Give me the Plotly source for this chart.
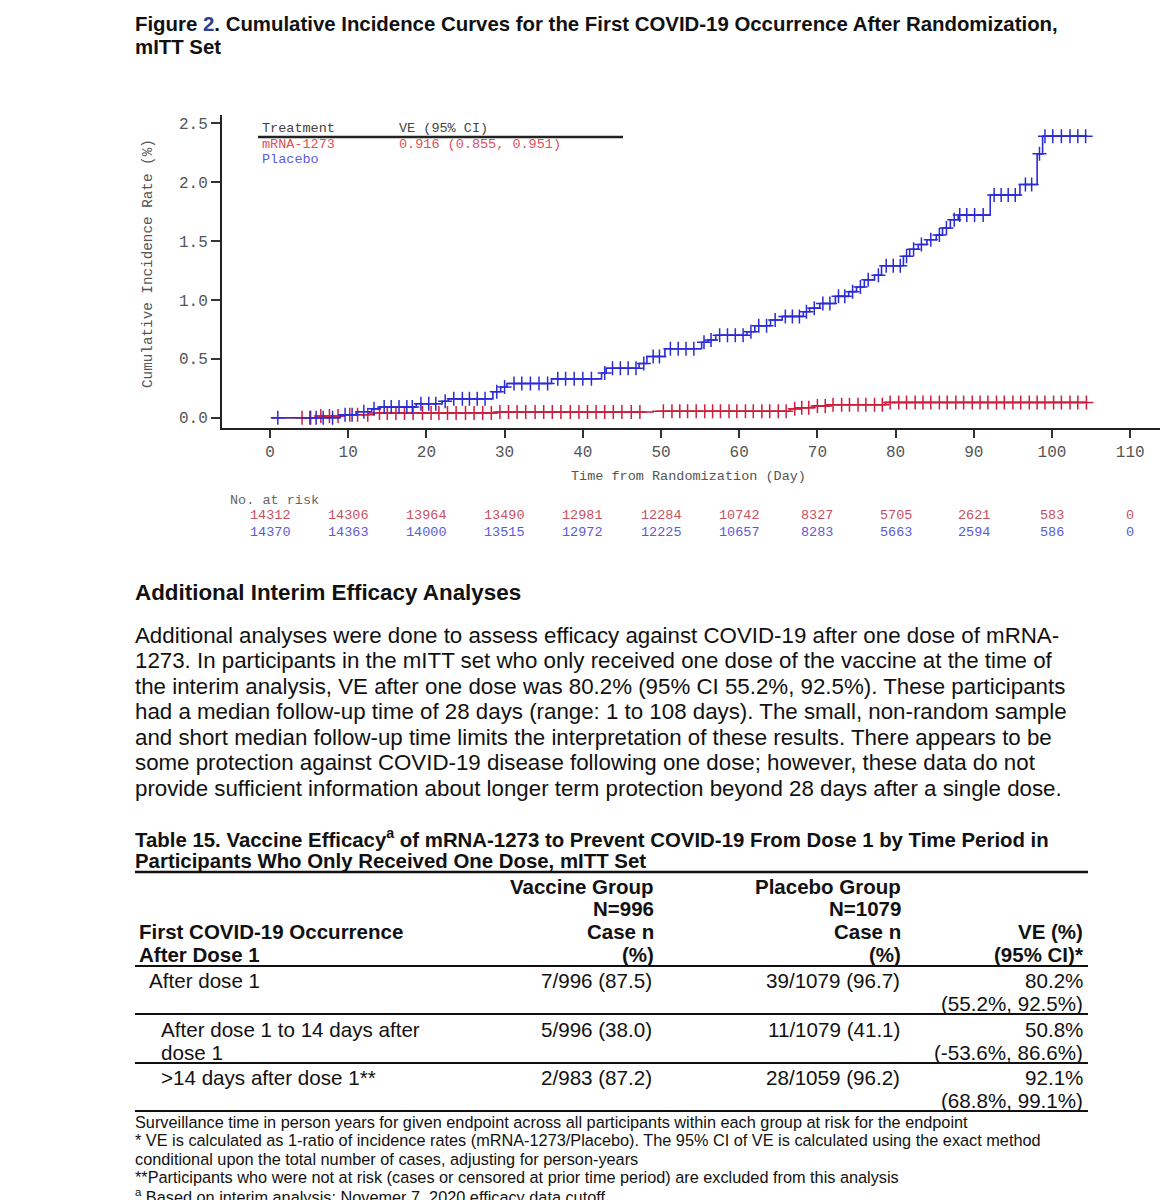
import numpy as np
import plotly.graph_objects as go

W, H = 1160, 1200

# ---------------- chart data ----------------
placebo_step_t = [0.2, 9, 11, 13, 14, 18.7, 22, 22.8, 28.5, 29.5, 30.3, 36, 42.4, 43, 47.2, 48.2, 50.5,
                  55.2, 56, 57, 61, 62, 64, 65.5, 68.2, 69, 70.3, 72.3, 74, 75, 76, 77.3, 78.2, 81,
                  81.8, 82.9, 84, 85.2, 86, 87, 88, 92.1, 95.9, 98.1, 98.8, 104.5]
placebo_step_v = [0.0, 0.025, 0.05, 0.075, 0.09, 0.118, 0.14, 0.16, 0.22, 0.26, 0.29, 0.33, 0.38, 0.42,
                  0.46, 0.52, 0.585, 0.64, 0.66, 0.70, 0.73, 0.78, 0.83, 0.86, 0.90, 0.93, 0.97, 1.03,
                  1.07, 1.11, 1.17, 1.21, 1.29, 1.37, 1.43, 1.47, 1.51, 1.55, 1.61, 1.68, 1.72, 1.89,
                  1.98, 2.24, 2.39, 2.39]
vaccine_step_t = [0.2, 6, 9.3, 12.6, 29, 49, 66.5, 67.8, 69.5, 71.5, 78.7, 104.5]
vaccine_step_v = [0.0, 0.014, 0.025, 0.04, 0.048, 0.055, 0.075, 0.085, 0.10, 0.11, 0.13, 0.13]

placebo_censor_t = [1.0, 5.1, 5.9, 6.8, 8.0, 9.6, 10.5, 12.0, 13.3, 14.6, 15.5, 16.5, 17.5, 18.2, 19.3,
                    20.3, 21.2, 22.4, 23.5, 24.6, 25.5, 26.5, 27.5, 29.0, 30.0, 31.2, 32.2, 33.3, 34.4,
                    35.5, 36.8, 37.8, 38.9, 40.0, 41.1, 42.8, 43.8, 44.8, 45.8, 46.8, 47.8, 49.0, 49.8,
                    51.2, 52.2, 53.2, 54.2, 55.5, 56.4, 57.5, 58.5, 59.5, 60.5, 61.5, 62.5, 63.5, 64.6,
                    65.9, 66.8, 67.7, 68.6, 69.6, 70.7, 71.6, 72.7, 73.5, 74.5, 75.5, 76.5, 77.8, 78.8,
                    79.7, 80.6, 81.4, 82.3, 83.3, 84.5, 85.6, 86.5, 87.5, 88.2, 89.1, 90.1, 91.2, 92.6,
                    93.5, 94.4, 95.3, 96.6, 97.4, 98.4, 99.1, 100.1, 101.2, 102.3, 103.3, 104.3]
vaccine_censor_t = [4.1, 5.2, 6.5, 7.6, 8.7, 10.2, 11.2, 12.5, 14.0, 15.0, 16.1, 17.2, 18.3, 19.5, 20.6,
                    21.6, 22.7, 23.8, 25.0, 26.1, 27.2, 28.3, 29.4, 30.5, 31.6, 32.7, 33.9, 35.0, 36.1,
                    37.2, 38.4, 39.5, 40.6, 41.7, 42.8, 43.9, 45.0, 46.2, 47.3, 50.3, 51.4, 52.4, 53.4,
                    54.5, 55.6, 56.6, 57.6, 58.7, 59.7, 60.8, 61.8, 62.9, 63.9, 65.0, 66.0, 67.1, 68.0,
                    68.9, 70.0, 71.0, 72.0, 73.1, 74.1, 75.2, 76.2, 77.3, 78.3, 79.3, 80.4, 81.4, 82.5,
                    83.5, 84.5, 85.6, 86.6, 87.7, 88.7, 89.8, 90.8, 91.8, 92.9, 93.9, 95.0, 96.0, 97.1,
                    98.1, 99.1, 100.2, 101.2, 102.3, 103.3, 104.4]

x_ticks = [0, 10, 20, 30, 40, 50, 60, 70, 80, 90, 100, 110]
y_ticks = [0.0, 0.5, 1.0, 1.5, 2.0, 2.5]
risk_vaccine = [14312, 14306, 13964, 13490, 12981, 12284, 10742, 8327, 5705, 2621, 583, 0]
risk_placebo = [14370, 14363, 14000, 13515, 12972, 12225, 10657, 8283, 5663, 2594, 586, 0]

ve_text = "0.916 (0.855, 0.951)"

# ---------------- document text ----------------
fig_title_lines = ["Figure <span style='color:#2a3f8f'>2</span>. Cumulative Incidence Curves for the First COVID-19 Occurrence After Randomization,",
                   "mITT Set"]
section_heading = "Additional Interim Efficacy Analyses"
paragraph_lines = [
    "Additional analyses were done to assess efficacy against COVID-19 after one dose of mRNA-",
    "1273. In participants in the mITT set who only received one dose of the vaccine at the time of",
    "the interim analysis, VE after one dose was 80.2% (95% CI 55.2%, 92.5%). These participants",
    "had a median follow-up time of 28 days (range: 1 to 108 days). The small, non-random sample",
    "and short median follow-up time limits the interpretation of these results. There appears to be",
    "some protection against COVID-19 disease following one dose; however, these data do not",
    "provide sufficient information about longer term protection beyond 28 days after a single dose.",
]
table_title_lines = ["Table 15. Vaccine Efficacy<sup>a</sup> of mRNA-1273 to Prevent COVID-19 From Dose 1 by Time Period in",
                     "Participants Who Only Received One Dose, mITT Set"]
header_col1 = ["", "", "First COVID-19 Occurrence", "After Dose 1"]
header_col2 = ["Vaccine Group", "N=996", "Case n", "(%)"]
header_col3 = ["Placebo Group", "N=1079", "Case n", "(%)"]
header_col4 = ["", "", "VE (%)", "(95% CI)*"]
row_labels = [["After dose 1"], ["After dose 1 to 14 days after", "dose 1"], [">14 days after dose 1**"]]
row_vaccine = ["7/996 (87.5)", "5/996 (38.0)", "2/983 (87.2)"]
row_placebo = ["39/1079 (96.7)", "11/1079 (41.1)", "28/1059 (96.2)"]
row_ve = ["80.2%", "50.8%", "92.1%"]
row_ci = ["(55.2%, 92.5%)", "(-53.6%, 86.6%)", "(68.8%, 99.1%)"]
footnotes = [
    "Surveillance time in person years for given endpoint across all participants within each group at risk for the endpoint",
    "* VE is calculated as 1-ratio of incidence rates (mRNA-1273/Placebo). The 95% CI of VE is calculated using the exact method",
    "conditional upon the total number of cases, adjusting for person-years",
    "**Participants who were not at risk (cases or censored at prior time period) are excluded from this analysis",
    "<sup>a</sup> Based on interim analysis; Novemer 7, 2020 efficacy data cutoff",
]

# ---------------- styles ----------------
BLUE = "#2b2bd6"
RED = "#cc1e3c"
BLUE_TXT = "#5a5ae6"
RED_TXT = "#e0505a"
MONO = "Liberation Mono, Courier New, monospace"
DOC = "Liberation Sans, Arial, sans-serif"
INK = "#111111"


def step_value(ts, vs, t):
    i = int(np.searchsorted(np.array(ts), t, side="right")) - 1
    return vs[max(i, 0)]


fig = go.Figure()

for ts, vs, cts, col in [(vaccine_step_t, vaccine_step_v, vaccine_censor_t, RED),
                         (placebo_step_t, placebo_step_v, placebo_censor_t, BLUE)]:
    fig.add_trace(go.Scatter(x=ts, y=vs, mode="lines", line=dict(color=col, width=1.6, shape="hv"),
                             showlegend=False, hoverinfo="skip"))
    fig.add_trace(go.Scatter(x=cts, y=[step_value(ts, vs, t) for t in cts], mode="markers",
                             marker=dict(symbol="cross-thin", size=10, line=dict(color=col, width=1.5)),
                             showlegend=False, hoverinfo="skip"))


def px(x):
    return x / W


def py(y):
    return 1 - y / H


# axes geometry (pixels)
AX_L, AX_R, AX_T, AX_B = 222, 1160, 115, 428
x0_px, x_per_day = 270.0, 7.82
y0_px, y_per_unit = 417.7, 117.8
x_range = [(AX_L - x0_px) / x_per_day, (AX_R - x0_px) / x_per_day]
y_range = [(y0_px - AX_B) / y_per_unit, (y0_px - AX_T) / y_per_unit]

fig.update_layout(
    width=W, height=H, margin=dict(l=0, r=0, t=0, b=0),
    paper_bgcolor="white", plot_bgcolor="white",
    xaxis=dict(domain=[px(AX_L), px(AX_R)], range=x_range, tickvals=x_ticks, ticks="outside",
               ticklen=8, tickwidth=1.5, tickcolor="#333", showline=True, linecolor="#222",
               linewidth=2, showgrid=False, zeroline=False,
               tickfont=dict(family=MONO, size=16, color="#555")),
    yaxis=dict(domain=[py(AX_B), py(AX_T)], range=y_range, tickvals=y_ticks,
               ticktext=[f"{v:.1f}" for v in y_ticks], ticks="outside", ticklen=9, tickwidth=1.5,
               tickcolor="#333", showline=True, linecolor="#222", linewidth=2, showgrid=False,
               zeroline=False, tickfont=dict(family=MONO, size=16, color="#555")),
)


def txt(s, x, y, size, family=DOC, color=INK, anchor="left", weight="normal", xref="paper"):
    fig.add_annotation(text=s, x=(px(x) if xref == "paper" else x), y=py(y), xref=xref, yref="paper",
                       xanchor=anchor, yanchor="middle", showarrow=False,
                       font=dict(family=family, size=size, color=color, weight=weight))


# chart texts
txt("Time from Randomization (Day)", 688, 477, 13.5, MONO, "#555", "center")
fig.add_annotation(text="Cumulative Incidence Rate (%)", x=px(148), y=py(264), xref="paper", yref="paper",
                   xanchor="center", yanchor="middle", textangle=-90, showarrow=False,
                   font=dict(family=MONO, size=14.3, color="#555"))
txt("Treatment", 260, 128, 13.5, MONO, "#444")
txt("VE (95% CI)", 397, 128, 13.5, MONO, "#444")
txt("mRNA-1273", 260, 144, 13.5, MONO, RED_TXT)
txt(ve_text, 397, 144, 13.5, MONO, RED_TXT)
txt("Placebo", 260, 160, 13.5, MONO, BLUE_TXT)
fig.add_shape(type="line", xref="paper", yref="paper", x0=px(258), x1=px(623), y0=py(137), y1=py(137),
              line=dict(color="#222", width=2.5))
txt("No. at risk", 228, 500, 13.5, MONO, "#666")
for d, rv, rp in zip(x_ticks, risk_vaccine, risk_placebo):
    txt(str(rv), d, 516, 13.5, MONO, "#c8505f", "center", xref="x")
    txt(str(rp), d, 532, 13.5, MONO, "#5a5ad8", "center", xref="x")

# document texts
for i, s in enumerate(fig_title_lines):
    txt(s, 133, 24 + 23 * i, 20.4, DOC, INK, "left", "bold")
txt(section_heading, 133, 592, 22.4, DOC, INK, "left", "bold")
for i, s in enumerate(paragraph_lines):
    txt(s, 133, 635 + 25.5 * i, 22.3, DOC, INK)
for i, s in enumerate(table_title_lines):
    txt(s, 133, 838 + 23 * i, 20.4, DOC, INK, "left", "bold")

# table header
hdr_y = [886, 909, 932, 955]
for i, y in enumerate(hdr_y):
    if header_col1[i]:
        txt(header_col1[i], 137, y, 20.5, DOC, INK, "left", "bold")
    txt(header_col2[i], 656, y, 20.5, DOC, INK, "right", "bold")
    txt(header_col3[i], 903, y, 20.5, DOC, INK, "right", "bold")
    if header_col4[i]:
        txt(header_col4[i], 1085, y, 20.5, DOC, INK, "right", "bold")

row_y = [980, 1029, 1077]
row_indent = [147, 159, 159]
for r, y in enumerate(row_y):
    for j, lab in enumerate(row_labels[r]):
        txt(lab, row_indent[r], y + 23 * j, 20.6, DOC, INK)
    txt(row_vaccine[r], 654, y, 20.6, DOC, INK, "right")
    txt(row_placebo[r], 902, y, 20.6, DOC, INK, "right")
    txt(row_ve[r], 1085, y, 20.6, DOC, INK, "right")
    txt(row_ci[r], 1085, y + 23, 20.6, DOC, INK, "right")

for y, wdt in [(872, 2.5), (966, 1.8), (1014, 1.8), (1063, 1.8), (1111, 1.8)]:
    fig.add_shape(type="line", xref="paper", yref="paper", x0=px(135), x1=px(1088), y0=py(y), y1=py(y),
                  line=dict(color="#111", width=wdt))

for i, s in enumerate(footnotes):
    txt(s, 133, 1122 + 18.4 * i, 16.3, DOC, INK)

fig.write_html("out.html", config={"displayModeBar": False},
               post_script="document.body.style.margin='0';document.body.style.overflow='hidden';")
